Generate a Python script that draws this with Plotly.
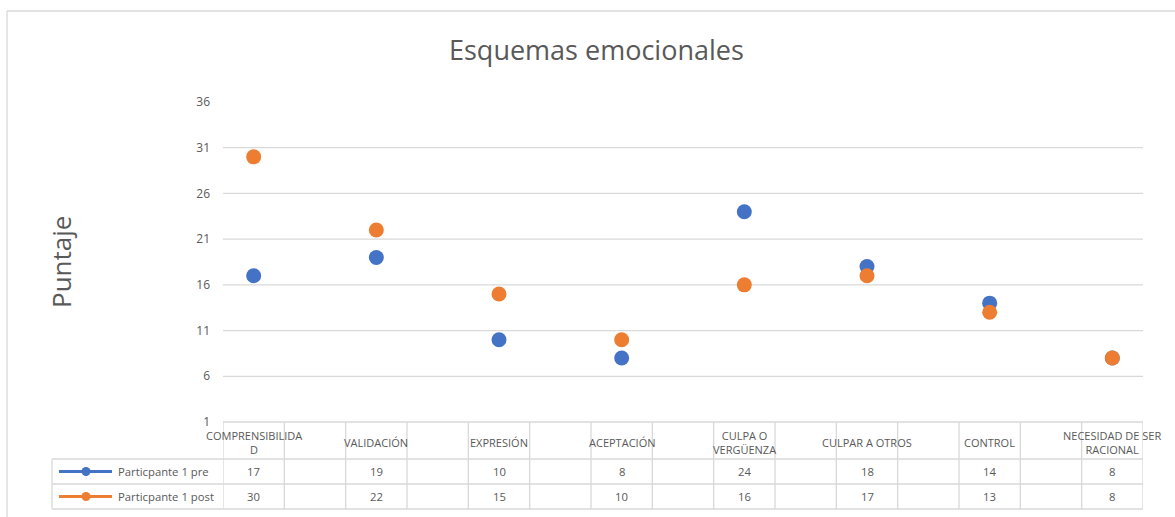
import plotly.graph_objects as go

categories = ["COMPRENSIBILIDA<br>D", "VALIDACIÓN", "EXPRESIÓN", "ACEPTACIÓN",
              "CULPA O<br>VERGÜENZA", "CULPAR A OTROS", "CONTROL", "NECESIDAD DE SER<br>RACIONAL"]
pre_values = [17, 19, 10, 8, 24, 18, 14, 8]
post_values = [30, 22, 15, 10, 16, 17, 13, 8]
series_names = ["Particpante 1 pre", "Particpante 1 post"]
y_ticks = [1, 6, 11, 16, 21, 26, 31, 36]

BLUE = "#4472C4"
ORANGE = "#ED7D31"
GRID = "#D9D9D9"
TXT = "#595959"
FONT = "Open Sans"

W, H = 1175, 517
L, R, T, B = 223, 1143, 102, 422  # plot area in pixels

def pxx(p):
    return (p - L) / (R - L)

def pxy(p):
    return (B - p) / (B - T)

# categories sit on every other slot (empty slot between)
xpos = [2 * i for i in range(len(categories))]
nslots = 2 * len(categories) - 1

fig = go.Figure()
for name, vals, col in [(series_names[0], pre_values, BLUE), (series_names[1], post_values, ORANGE)]:
    fig.add_trace(go.Scatter(x=xpos, y=vals, mode="markers", name=name,
                             marker=dict(size=15, color=col), showlegend=False))

shapes = []
annotations = []

# gridlines (all ticks except the top one)
for v in y_ticks[1:-1]:
    shapes.append(dict(type="line", xref="paper", yref="y", x0=0, x1=1, y0=v, y1=v,
                       line=dict(color=GRID, width=1.3), layer="below"))

# outer chart border (left and top)
shapes.append(dict(type="line", xref="paper", yref="paper", x0=pxx(7), x1=pxx(1180),
                   y0=pxy(11), y1=pxy(11), line=dict(color=GRID, width=1.3)))
shapes.append(dict(type="line", xref="paper", yref="paper", x0=pxx(7), x1=pxx(7),
                   y0=pxy(11), y1=pxy(520), line=dict(color=GRID, width=1.3)))

# data table geometry
hdr_top, row1_top, row2_top, tbl_bot = 422, 459, 484, 509
leg_left = 52
lc = dict(color=GRID, width=1.3)
# horizontal lines
shapes.append(dict(type="line", xref="paper", yref="paper", x0=0, x1=1, y0=pxy(hdr_top), y1=pxy(hdr_top), line=lc))
for yy in (row1_top, row2_top, tbl_bot):
    shapes.append(dict(type="line", xref="paper", yref="paper", x0=pxx(leg_left), x1=1,
                       y0=pxy(yy), y1=pxy(yy), line=lc))
# vertical lines
shapes.append(dict(type="line", xref="paper", yref="paper", x0=pxx(leg_left), x1=pxx(leg_left),
                   y0=pxy(row1_top), y1=pxy(tbl_bot), line=lc))
for k in range(nslots + 1):
    shapes.append(dict(type="line", xref="x", yref="paper", x0=k - 0.5, x1=k - 0.5,
                       y0=pxy(hdr_top), y1=pxy(tbl_bot), line=lc))

# header labels
for i, c in enumerate(categories):
    annotations.append(dict(x=xpos[i], y=pxy(442), xref="x", yref="paper", text=c,
                            showarrow=False, xanchor="center", yanchor="middle", align="center",
                            font=dict(family=FONT, size=11, color=TXT)))
# values
for vals, yy in ((pre_values, 471.5), (post_values, 496.5)):
    for i, v in enumerate(vals):
        annotations.append(dict(x=xpos[i], y=pxy(yy), xref="x", yref="paper", text=str(v),
                                showarrow=False, xanchor="center", yanchor="middle",
                                font=dict(family=FONT, size=11.3, color=TXT)))
# legend keys
for name, col, yy in ((series_names[0], BLUE, 471.5), (series_names[1], ORANGE, 496.5)):
    shapes.append(dict(type="line", xref="paper", yref="paper", x0=pxx(59), x1=pxx(112),
                       y0=pxy(yy), y1=pxy(yy), line=dict(color=col, width=3)))
    shapes.append(dict(type="circle", xref="paper", yref="paper", x0=pxx(81.5), x1=pxx(90.5),
                       y0=pxy(yy - 4.5), y1=pxy(yy + 4.5), fillcolor=col, line=dict(color=col, width=0)))
    annotations.append(dict(x=pxx(116), y=pxy(yy), xref="paper", yref="paper", text=name,
                            showarrow=False, xanchor="left", yanchor="middle",
                            font=dict(family=FONT, size=11.3, color=TXT)))

# title and y-axis title
annotations.append(dict(x=pxx(596), y=pxy(50), xref="paper", yref="paper", text="Esquemas emocionales",
                        showarrow=False, xanchor="center", yanchor="middle",
                        font=dict(family=FONT, size=27, color=TXT)))
annotations.append(dict(x=pxx(61), y=pxy(262), xref="paper", yref="paper", text="Puntaje",
                        showarrow=False, xanchor="center", yanchor="middle", textangle=-90,
                        font=dict(family=FONT, size=26, color=TXT)))

fig.update_layout(
    width=W, height=H,
    margin=dict(l=L, r=W - R, t=T, b=H - B, pad=0),
    paper_bgcolor="white", plot_bgcolor="white",
    xaxis=dict(range=[-0.5, nslots - 0.5], showgrid=False, zeroline=False,
               showticklabels=False, ticks="", fixedrange=True),
    yaxis=dict(range=[y_ticks[0], y_ticks[-1]], tickvals=y_ticks, showgrid=False,
               zeroline=False, showline=False, ticks="", ticklabelstandoff=12,
               tickfont=dict(family=FONT, size=12, color=TXT)),
    shapes=shapes, annotations=annotations,
)

fig.write_html("out.html")
